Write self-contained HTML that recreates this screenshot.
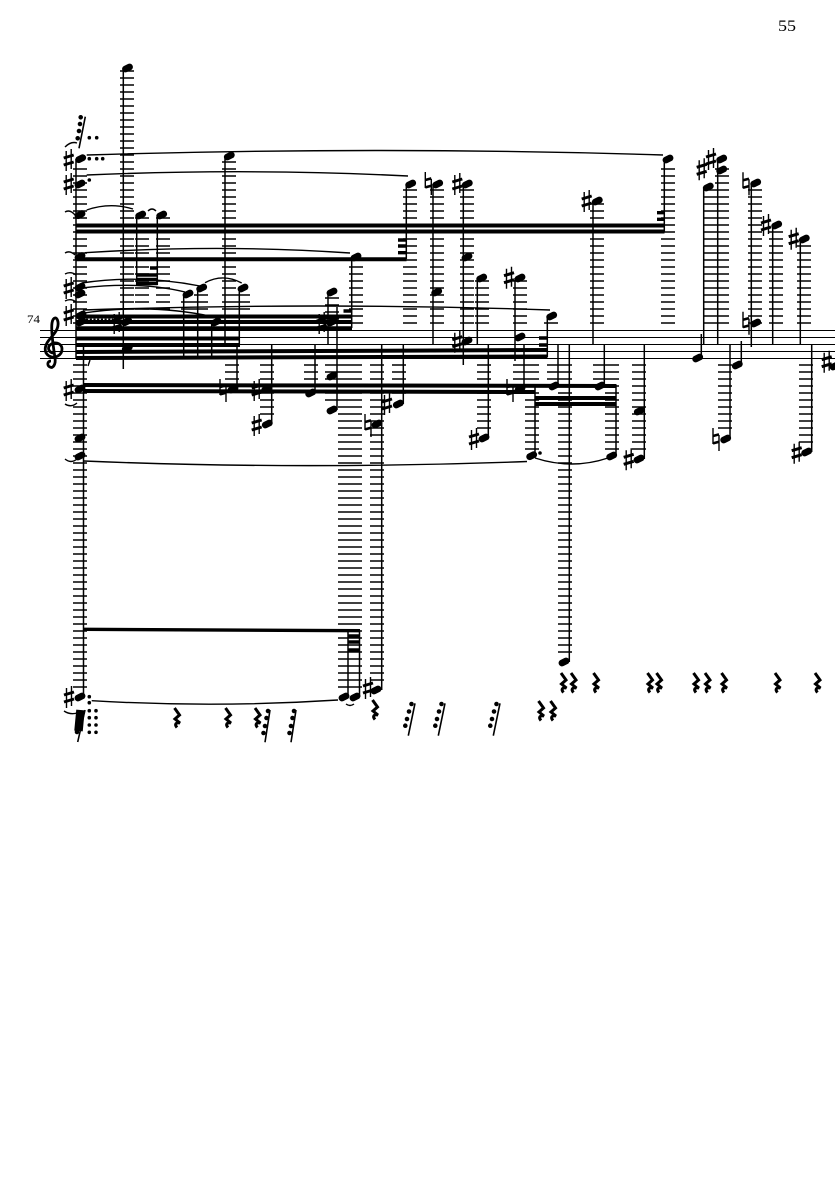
<!DOCTYPE html>
<html><head><meta charset="utf-8"><title>Score page 55</title>
<style>
html,body{margin:0;padding:0;background:#fff}
svg{display:block}
text{font-family:"Liberation Serif",serif;fill:#000}
path{fill:none;stroke:#000}
</style></head><body>
<svg width="835" height="1181" viewBox="0 0 835 1181" xmlns="http://www.w3.org/2000/svg">
<text x="778" y="31" font-size="15.5" textLength="18" lengthAdjust="spacingAndGlyphs">55</text>
<text x="27" y="323" font-size="12" textLength="13" lengthAdjust="spacingAndGlyphs">74</text>

<!-- staff -->
<path stroke-width="1" d="M40 330.5H835M40 337.5H835M40 344.5H835M40 351.5H835M40 358.5H835"/>

<!-- ledger lines -->
<path stroke="#2a2a2a" stroke-width="14" stroke-dasharray="1.5 5.5" d="M80 168.3V324M127 70.3V324M142 217.3V324M163 217.3V324M188 301.3V324M201 294.3V324M229 161.3V324M243 294.3V324M332 297.3V324M356 266.3V324M410 189.3V324M437 189.3V324M467 189.3V324M482 280.3V324M520 280.3V324M551 322.3V324M597 203.3V324M668 168.3V324M710 189.3V324M722 168.3V324M755 189.3V324M776 231.3V324M804 245.3V324
M80 364.3V692M232 364.3V380M267 364.3V419M311 364.3V380M332 364.3V405M345 364.3V692M355 364.3V692M377 364.3V685M399 364.3V398M484 364.3V433M520 364.3V380M532 364.3V450M554 364.3V380M565 364.3V657M600 364.3V380M612 364.3V450M639 364.3V454M725 364.3V433M806 364.3V447"/>

<!-- stems -->
<path stroke-width="1.5" d="M76 159V359M83.5 346V697M123.3 68V369M136.7 215V285M157.3 215V285M183.7 294V357M197.7 288V357M211.7 322V357M225 156V344M239.3 288V345M237 344V389M271.7 344V424M315 344V393M328 292V344M337 307V410M351.7 257V328M348 630V697M359.5 630V697M381.7 344V690M403.3 344V404M406.3 184V259M433 184V344M463.3 184V365M477.3 278V344M488.3 344V438M515 278V361M524 344V389M547.3 316V357M535 385V455M558 344V386M569.3 344V662M593 201V344M604.3 344V386M616 385V455M644.3 344V459M664.3 159V232M701.3 334V358M703.7 187V344M717.7 160V344M730 344V439M741.3 341V365M751.3 183V347M772.7 225V344M800.3 239V344M811.7 344V452"/>

<!-- beams -->
<path stroke-width="4" d="M76 225.5H664.5M76 231.5H664.5M76 259.3H406.5M76 316.5H352M76 322H352M76 328.3H352M76 338.5H240M76 345H240M76 352L547.5 350M76 358L547.5 356.5M83 385L616.5 386M83 391L535 392M535 398H616.5M535 404H616.5"/>
<path stroke-width="3.4" d="M84 629.3L360 630.7M136 275H157.5M136 279.5H157.5M136 283.5H157.5M150 268H157.5M348 636H360M348 642H360M348 650H360M343.5 311H351M398 240H406.5M398 246H406.5M398 252.7H406.5M657 212.7H664.5M657 219.3H664.5M539 338H547.5M539 345H547.5"/>

<!-- noteheads -->
<path stroke-width="6.8" stroke-linecap="round" d="M78.7 159.7l4-2M78 185l4-2M78 215.7l4-2M78 257.7l4-2M78 288l4-2M78 295l4-2M79 316l4-2M79 323l4-2M78 390l4-2M78 439l4-2M78 457l4-2M78 698l4-2M125.5 69l4-2M124.7 322.7l4-2M125.3 349l4-2M138.7 216l4-2M159.7 216l4-2M186 295l4-2M199.7 289l4-2M214 323l4-2M241 289l4-2M227.3 157l4-2M231 390l4-2M264.7 390l4-2M265.3 425l4-2M308.7 394l4-2M330 293l4-2M330 323l4-2M330 377l4-2M330 411l4-2M342 698l4-2M353 698l4-2M354 258l4-2M374 691l4-2M375 425l4-2M396.3 405l4-2M408.7 185l4-2M435.7 185l4-2M434.7 293l4-2M465.3 185l4-2M465 258l4-2M465 342l4-2M479.7 279l4-2M482 439l4-2M518 279l4-2M518 338l4-2M518 390l4-2M529.7 456.7l4-2M549.7 317l4-2M552 387l4-2M598 387l4-2M562 663l4-2M595.3 202l4-2M609.7 457l4-2M637.3 412l4-2M637 460l4-2M666 160l4-2M695.7 359l4-2M706.3 188l4-2M719.7 160l4-2M719.7 171l4-2M723.7 440l4-2M735.3 366l4-2M753.7 184l4-2M753.7 324l4-2M774.7 226l4-2M802.3 240l4-2M804.7 453l4-2M833 367l4-2"/>

<!-- sharps -->
<path stroke-width="1.4" d="M68.7 160m-2.5-9v20m5-22v20M68.7 184m-2.5-9v20m5-22v20M68.7 288m-2.5-9v20m5-22v20M68.7 315m-2.5-9v20m5-22v20M68.7 390m-2.5-9v20m5-22v20M69 697m-2.5-9v20m5-22v20M116.7 323m-2.5-9v20m5-22v20M256.7 390m-2.5-9v20m5-22v20M256.7 425m-2.5-9v20m5-22v20M321.7 323m-2.5-9v20m5-22v20M387 404m-2.5-9v20m5-22v20M457.3 184m-2.5-9v20m5-22v20M457.3 341.7m-2.5-9v20m5-22v20M474 439m-2.5-9v20m5-22v20M509 277.7m-2.5-9v20m5-22v20M586.7 201m-2.5-9v20m5-22v20M628.7 459.3m-2.5-9v20m5-22v20M701.7 169.3m-2.5-9v20m5-22v20M711 159m-2.5-9v20m5-22v20M766 225m-2.5-9v20m5-22v20M793.7 238.7m-2.5-9v20m5-22v20M796.7 452.7m-2.5-9v20m5-22v20M368 688m-2.5-9v20m5-22v20M826.7 361.7m-2.5-9v20m5-22v20"/>
<path stroke-width="3" d="M68.7 160m-5-2l10-3m-10 10l10-3M68.7 184m-5-2l10-3m-10 10l10-3M68.7 288m-5-2l10-3m-10 10l10-3M68.7 315m-5-2l10-3m-10 10l10-3M68.7 390m-5-2l10-3m-10 10l10-3M69 697m-5-2l10-3m-10 10l10-3M116.7 323m-5-2l10-3m-10 10l10-3M256.7 390m-5-2l10-3m-10 10l10-3M256.7 425m-5-2l10-3m-10 10l10-3M321.7 323m-5-2l10-3m-10 10l10-3M387 404m-5-2l10-3m-10 10l10-3M457.3 184m-5-2l10-3m-10 10l10-3M457.3 341.7m-5-2l10-3m-10 10l10-3M474 439m-5-2l10-3m-10 10l10-3M509 277.7m-5-2l10-3m-10 10l10-3M586.7 201m-5-2l10-3m-10 10l10-3M628.7 459.3m-5-2l10-3m-10 10l10-3M701.7 169.3m-5-2l10-3m-10 10l10-3M711 159m-5-2l10-3m-10 10l10-3M766 225m-5-2l10-3m-10 10l10-3M793.7 238.7m-5-2l10-3m-10 10l10-3M796.7 452.7m-5-2l10-3m-10 10l10-3M368 688m-5-2l10-3m-10 10l10-3M826.7 361.7m-5-2l10-3m-10 10l10-3"/>

<!-- naturals -->
<path stroke-width="1.4" d="M428.3 183m-3-11v16m6-9v16M223 390m-3-11v16m6-9v16M368 425m-3-11v16m6-9v16M510 390m-3-11v16m6-9v16M716 439m-3-11v16m6-9v16M746 183.3m-3-11v16m6-9v16M746 322.7m-3-11v16m6-9v16"/>
<path stroke-width="2.6" d="M428.3 183m-3-3l6-1.6m-6 9l6-1.6M223 390m-3-3l6-1.6m-6 9l6-1.6M368 425m-3-3l6-1.6m-6 9l6-1.6M510 390m-3-3l6-1.6m-6 9l6-1.6M716 439m-3-3l6-1.6m-6 9l6-1.6M746 183.3m-3-3l6-1.6m-6 9l6-1.6M746 322.7m-3-3l6-1.6m-6 9l6-1.6"/>

<!-- slurs and ties -->
<path stroke-width="1.4" d="M86.7 155Q375 146 663 155M86.7 175Q250 168 408 176M86.7 210Q110 202 133 209M148 211Q152 207 156 211M85 252.7Q220 244 350 253M81.7 283Q140 274 200 286M81.7 288Q140 281 185 292M205 282.7Q223 273 241.7 283M81.7 313.3Q150 303 212.7 316.7M83 310Q320 302 550 310M84 461Q300 470 527 461.5M535 458Q572 470 608 458M91.7 700.7Q215 708 338 700M346 704Q350 707 354 704M65 147Q71 141 77 143M65 212Q70 209 75 215M65 253Q70 250 75 255M65 274Q71 271 76 275M65 301Q71 298 76 302M65 404Q71 408 77 403M65 459Q71 464 77 459M64 711Q70 715 77 713M88 366L90 360"/>

<!-- dots -->
<path stroke-width="3.6" stroke-linecap="round" d="M89.3 137.7h0M96.7 137.7h0M89.3 158.7h0M96.7 158.7h0M102.7 158.7h0M89.3 180h0M540 453h0M89.3 696.7h0M89.3 702.7h0M89.3 710.7h0M96 710.7h0M89.3 717.7h0M96 717.7h0M89.3 725h0M96 725h0M89.3 732.3h0M96 732.3h0"/>
<path stroke-width="2.8" stroke-dasharray="2.2 1.5" d="M86 320H113"/>

<!-- small stemmed stacks -->
<path stroke-width="1.6" d="M85.3 116.7L79 148.3M85 710L77.7 742M270 710L265 742.3M296 710L291 742.3M415 703.3L408.3 735.7M445 703.3L438.3 735.7M500 703.3L493.3 735.7"/>
<path stroke-width="4.6" stroke-linecap="round" d="M80.7 117.3h0M80 124h0M79 131h0M77.7 138.3h0M77 732h0M268 711h0M266.5 718h0M265 726h0M263.5 733h0M294 711h0M292.5 718h0M291 726h0M289.5 733h0M411.5 704h0M409 711.5h0M407 719h0M405.3 725.7h0M441.5 704h0M439 711.5h0M437 719h0M435.3 725.7h0M496.5 704h0M494 711.5h0M492 719h0M490.3 725.7h0"/>
<path stroke-width="8.5" d="M80.5 710L78.5 731"/>

<!-- rests -->
<path stroke-width="3" d="M174.5 708l5 7-4.5 4 5 4c-3.5-1-6 1-3 4.5M225.5 708l5 7-4.5 4 5 4c-3.5-1-6 1-3 4.5M255 708l5 7-4.5 4 5 4c-3.5-1-6 1-3 4.5M372.5 700l5 7-4.5 4 5 4c-3.5-1-6 1-3 4.5M538.5 701l5 7-4.5 4 5 4c-3.5-1-6 1-3 4.5M550.5 701l5 7-4.5 4 5 4c-3.5-1-6 1-3 4.5M561 673l5 7-4.5 4 5 4c-3.5-1-6 1-3 4.5M571 673l5 7-4.5 4 5 4c-3.5-1-6 1-3 4.5M593.5 673l5 7-4.5 4 5 4c-3.5-1-6 1-3 4.5M647.5 673l5 7-4.5 4 5 4c-3.5-1-6 1-3 4.5M656.5 673l5 7-4.5 4 5 4c-3.5-1-6 1-3 4.5M693.5 673l5 7-4.5 4 5 4c-3.5-1-6 1-3 4.5M705 673l5 7-4.5 4 5 4c-3.5-1-6 1-3 4.5M721.5 673l5 7-4.5 4 5 4c-3.5-1-6 1-3 4.5M775 673l5 7-4.5 4 5 4c-3.5-1-6 1-3 4.5M815 673l5 7-4.5 4 5 4c-3.5-1-6 1-3 4.5"/>

<!-- treble clef -->
<path stroke-width="2.8" d="M54 353C49 353 47 348 50 345C54 341 62 343 62 349C62 356 54 359 49 356C43 352 45 345 49 340C54 334 59 329 58 322C57 316 53 317 52 323C51 329 53 345 55 358C56 364 53 369 50 367C47 366 47 361 51 361"/>
</svg>
</body></html>
